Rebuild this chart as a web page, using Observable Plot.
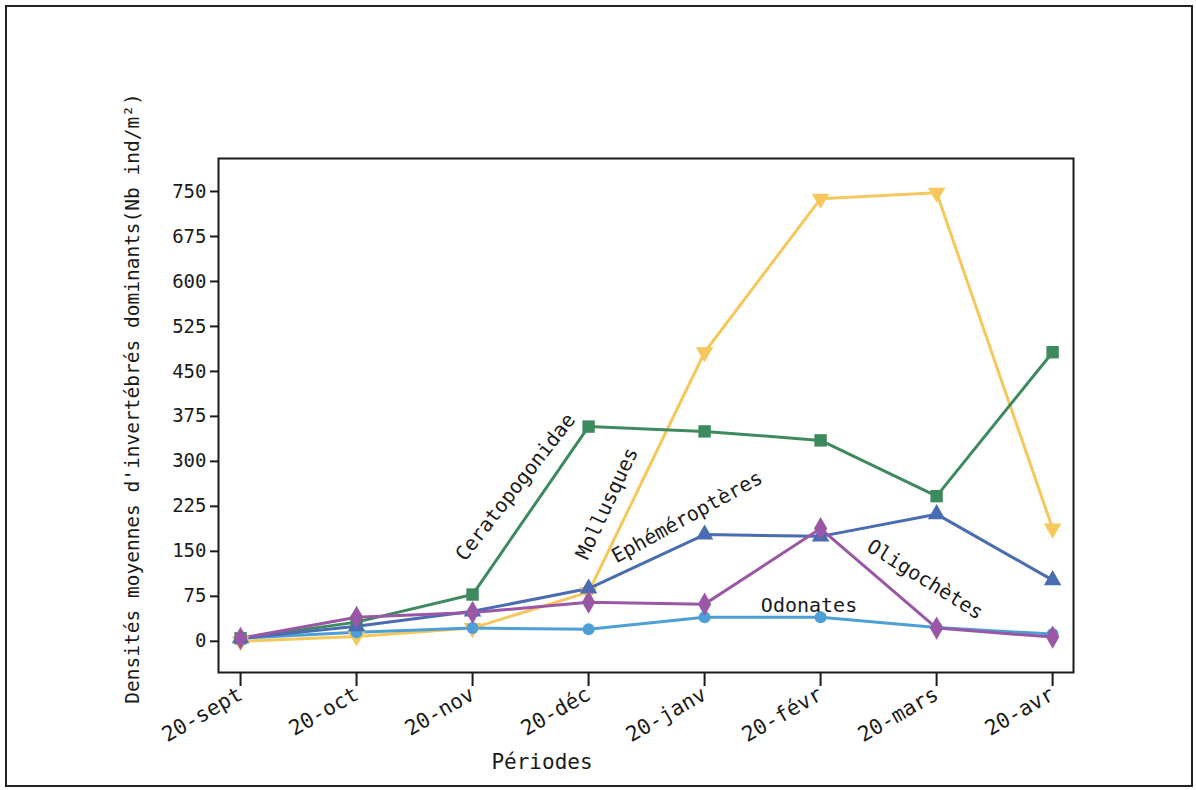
<!DOCTYPE html>
<html><head><meta charset="utf-8">
<script src="https://cdn.jsdelivr.net/npm/d3@7"></script>
<script src="https://cdn.jsdelivr.net/npm/@observablehq/plot@0.6"></script>
<style>
body{margin:0;background:#fff;}
#wrap{position:relative;width:1196px;height:790px;overflow:hidden;}
#border{position:absolute;left:5px;top:5px;width:1184px;height:778px;border:2px solid #222;pointer-events:none;}
</style></head><body><div id="wrap"><div id="border"></div></div>
<script>
const periods = ["20-sept","20-oct","20-nov","20-déc","20-janv","20-févr","20-mars","20-avr"];
const ceratopogonidae = [5, 32, 78, 358, 350, 335, 242, 482];
const mollusques = [0, 8, 22, 82, 482, 738, 748, 188];
const ephemeropteres = [5, 25, 50, 88, 178, 175, 212, 102];
const oligochetes = [5, 40, 48, 65, 62, 188, 22, 7];
const odonates = [5, 15, 22, 20, 40, 40, 23, 12];

const seriesNames = ["Mollusques", "Ceratopogonidae", "Odonates", "Ephéméroptères", "Oligochètes"];
const seriesValues = [mollusques, ceratopogonidae, odonates, ephemeropteres, oligochetes];
const seriesColors = ["#f6c85c", "#3e8a5f", "#4d9fd6", "#4a6cb3", "#9a57a5"];
const seriesSymbols = ["triangle", "square", "circle", "triangle", "diamond"];
const seriesRotate = [180, 0, 0, 0, 0];
const seriesR = [6.5, 7, 6, 6.5, 7];

const yTicks = [0, 75, 150, 225, 300, 375, 450, 525, 600, 675, 750];

const labelText = ["Ceratopogonidae", "Mollusques", "Ephéméroptères", "Odonates", "Oligochètes"];
const labelX = [2.37, 3.16, 3.85, 4.9, 5.9];
const labelY = [257, 230, 207, 60, 103];
const labelAngle = [-52, -65, -29, 0, 32];

const yTitle = "Densités moyennes d'invertébrés dominants(Nb ind/m²)";
const xTitle = "Périodes";

const FONT = "DejaVu Sans Mono, monospace";

const marks = [];
seriesNames.forEach((name, k) => {
  const rows = seriesValues[k].map((v, i) => ({i, v}));
  marks.push(Plot.line(rows, {x: "i", y: "v", stroke: seriesColors[k], strokeWidth: 3}));
});
seriesNames.forEach((name, k) => {
  const rows = seriesValues[k].map((v, i) => ({i, v}));
  marks.push(Plot.dot(rows, {x: "i", y: "v", fill: seriesColors[k], symbol: seriesSymbols[k], r: seriesR[k], rotate: seriesRotate[k]}));
});
const labels = labelText.map((t, k) => ({t, x: labelX[k], y: labelY[k], a: labelAngle[k]}));

const chart = Plot.plot({
  width: 1196,
  height: 790,
  marginLeft: 218,
  marginRight: 123,
  marginTop: 158,
  marginBottom: 118,
  style: {fontFamily: FONT, background: "transparent", color: "#1a1a1a"},
  x: {type: "linear", domain: [-0.19, 7.18]},
  y: {domain: [-52, 805]},
  marks: [
    ...marks,
    Plot.text(labels, {x: "x", y: "y", text: "t", rotate: "a", fontSize: 20, fill: "#1a1a1a", fontFamily: FONT}),
    Plot.frame({stroke: "#1a1a1a", strokeWidth: 2}),
    Plot.axisY({ticks: yTicks, tickSize: 8, tickPadding: 4, fontSize: 19, label: null, tickFormat: d => String(d), strokeWidth: 2}),
    Plot.axisX({ticks: d3.range(periods.length), tickFormat: i => periods[i], tickRotate: -30, tickSize: 14, tickPadding: 6, fontSize: 21, label: null, strokeWidth: 2}),
    Plot.text([yTitle], {frameAnchor: "left", textAnchor: "middle", rotate: -90, dx: -86, dy: -17, fontSize: 19.5, fill: "#1a1a1a", fontFamily: FONT}),
    Plot.text([xTitle], {frameAnchor: "bottom", dx: -104, dy: 96, fontSize: 21, fill: "#1a1a1a", fontFamily: FONT})
  ]
});
chart.style.position = "absolute";
chart.style.left = "0px";
chart.style.top = "0px";
document.getElementById("wrap").prepend(chart);
</script></body></html>
